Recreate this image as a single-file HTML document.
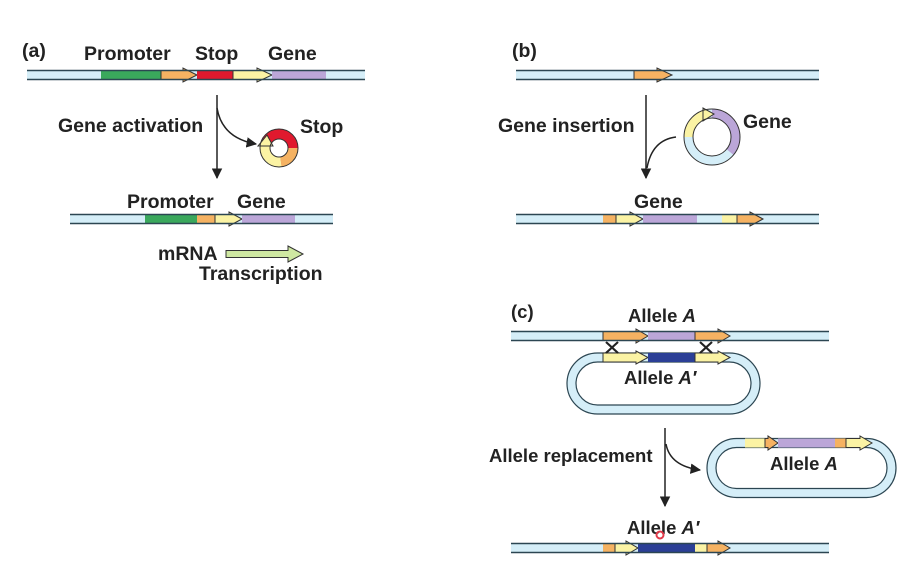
<!DOCTYPE html>
<html><head><meta charset="utf-8"><style>
html,body{margin:0;padding:0;background:#fff;}
svg{display:block;font-family:"Liberation Sans",sans-serif;font-weight:bold;}
text{font-size:19.5px;fill:#222;}
.c text, text.c{font-size:18.5px;}
.s{fill:#d5eef8;}
.l{stroke:#2c4652;stroke-width:1.4;fill:none;}
.a{stroke:#333;stroke-width:1;}
</style></head><body>
<svg width="921" height="576" viewBox="0 0 921 576">
<defs>
<marker id="ah" viewBox="0 0 10 10" refX="9" refY="5" markerWidth="7" markerHeight="7" orient="auto"><path d="M0,0 L10,5 L0,10 z" fill="#222"/></marker>
</defs>

<!-- PANEL A -->
<g>
<text x="22" y="57">(a)</text>
<text x="84" y="60">Promoter</text>
<text x="195" y="60">Stop</text>
<text x="268" y="60">Gene</text>
<g>
<rect class="s" x="27" y="70.5" width="338" height="9"/>
<rect x="101" y="70.5" width="60" height="9" fill="#3aa85c"/>
<polygon class="a" fill="#f5b262" points="161,70.5 183,70.5 183,68 197,75 183,82 183,79.5 161,79.5"/>
<rect x="197" y="70.5" width="36" height="9" fill="#e0192e"/>
<polygon class="a" fill="#fbf3a4" points="233,70.5 257,70.5 257,68 272,75 257,82 257,79.5 233,79.5"/>
<rect x="272" y="70.5" width="54" height="9" fill="#bba6d8"/>
<line class="l" x1="27" y1="70.5" x2="365" y2="70.5"/><line class="l" x1="27" y1="79.5" x2="365" y2="79.5"/>
</g>
<line x1="217" y1="95" x2="217" y2="178" stroke="#222" stroke-width="1.5" marker-end="url(#ah)"/>
<path d="M217,108 Q222,138 256,144" stroke="#222" stroke-width="1.5" fill="none" marker-end="url(#ah)"/>
<text x="58" y="132">Gene activation</text>
<g transform="translate(279,148)">
<circle r="14" fill="none" stroke="#e0192e" stroke-width="10"/>
<path d="M14,0 A14,14 0 0 1 2,13.9" fill="none" stroke="#f5b262" stroke-width="10"/>
<path d="M2,13.9 A14,14 0 0 1 -13.5,-3.5" fill="none" stroke="#fbf3a4" stroke-width="10"/>
<polygon class="a" fill="#fbf3a4" points="-21,-2 -6,-2 -12,-13"/>
<circle r="19" fill="none" stroke="#333" stroke-width="1"/><circle r="9" fill="none" stroke="#333" stroke-width="1"/>
</g>
<text x="300" y="133">Stop</text>
<text x="127" y="208">Promoter</text>
<text x="237" y="208">Gene</text>
<g>
<rect class="s" x="70" y="214.5" width="263" height="9"/>
<rect x="145" y="214.5" width="52" height="9" fill="#3aa85c"/>
<rect x="197" y="214.5" width="18" height="9" fill="#f5b262"/>
<polygon class="a" fill="#fbf3a4" points="215,214.5 229,214.5 229,212 242,219 229,226 229,223.5 215,223.5"/>
<rect x="242" y="214.5" width="53" height="9" fill="#bba6d8"/>
<line class="l" x1="70" y1="214.5" x2="333" y2="214.5"/><line class="l" x1="70" y1="223.5" x2="333" y2="223.5"/>
</g>
<text x="158" y="260">mRNA</text>
<polygon class="a" fill="#cfe8a2" points="226,250.5 288,250.5 288,246 303,254 288,262 288,257.5 226,257.5"/>
<text x="199" y="280">Transcription</text>
</g>

<!-- PANEL B -->
<g>
<text x="512" y="57">(b)</text>
<g>
<rect class="s" x="516" y="70.5" width="303" height="9"/>
<polygon class="a" fill="#f5b262" points="634,70.5 657,70.5 657,68 672,75 657,82 657,79.5 634,79.5"/>
<line class="l" x1="516" y1="70.5" x2="819" y2="70.5"/><line class="l" x1="516" y1="79.5" x2="819" y2="79.5"/>
</g>
<line x1="646" y1="95" x2="646" y2="178" stroke="#222" stroke-width="1.5" marker-end="url(#ah)"/>
<path d="M676,137 Q652,140 647,168" stroke="#222" stroke-width="1.5" fill="none"/>
<text x="498" y="132">Gene insertion</text>
<g transform="translate(712,137)">
<circle r="23.5" fill="none" stroke="#d5eef8" stroke-width="9"/>
<path d="M0,-23.5 A23.5,23.5 0 0 1 18,15" fill="none" stroke="#bba6d8" stroke-width="9"/>
<path d="M-23.5,0 A23.5,23.5 0 0 1 -8,-22" fill="none" stroke="#fbf3a4" stroke-width="9"/>
<polygon class="a" fill="#fbf3a4" points="-9,-29 -9,-16 2,-23"/>
<circle r="28" fill="none" stroke="#333" stroke-width="1"/><circle r="19" fill="none" stroke="#333" stroke-width="1"/>
</g>
<text x="743" y="128">Gene</text>
<text x="634" y="208">Gene</text>
<g>
<rect class="s" x="516" y="214.5" width="303" height="9"/>
<rect x="603" y="214.5" width="13" height="9" fill="#f5b262"/>
<polygon class="a" fill="#fbf3a4" points="616,214.5 630,214.5 630,212 643,219 630,226 630,223.5 616,223.5"/>
<rect x="643" y="214.5" width="54" height="9" fill="#bba6d8"/>
<rect x="722" y="214.5" width="15" height="9" fill="#fbf3a4"/>
<polygon class="a" fill="#f5b262" points="737,214.5 750,214.5 750,212 763,219 750,226 750,223.5 737,223.5"/>
<line class="l" x1="516" y1="214.5" x2="819" y2="214.5"/><line class="l" x1="516" y1="223.5" x2="819" y2="223.5"/>
</g>
</g>

<!-- PANEL C -->
<g class="c">
<text x="511" y="318">(c)</text>
<text x="628" y="322">Allele <tspan font-style="italic">A</tspan></text>
<g>
<rect class="s" x="511" y="331.5" width="318" height="9"/>
<polygon class="a" fill="#f5b262" points="603,331.5 636,331.5 636,329 648,336 636,343 636,340.5 603,340.5"/>
<rect x="648" y="331.5" width="47" height="9" fill="#bba6d8"/>
<polygon class="a" fill="#f5b262" points="695,331.5 718,331.5 718,329 730,336 718,343 718,340.5 695,340.5"/>
<line class="l" x1="511" y1="331.5" x2="829" y2="331.5"/><line class="l" x1="511" y1="340.5" x2="829" y2="340.5"/>
</g>
<g>
<rect x="571.5" y="357.5" width="184" height="52" rx="26" fill="none" stroke="#d5eef8" stroke-width="9"/>
<rect x="567" y="353" width="193" height="61" rx="30.5" fill="none" stroke="#2c4652" stroke-width="1.2"/>
<rect x="576" y="362" width="175" height="43" rx="21.5" fill="none" stroke="#2c4652" stroke-width="1.2"/>
<polygon class="a" fill="#fbf3a4" points="603,353 636,353 636,351 648,357.5 636,364 636,362 603,362"/>
<rect x="648" y="353" width="47" height="9" fill="#2b3f96"/>
<polygon class="a" fill="#fbf3a4" points="695,353 718,353 718,351 730,357.5 718,364 718,362 695,362"/>
</g>
<g stroke="#222" stroke-width="2.2">
<line x1="606" y1="342" x2="618" y2="353"/><line x1="618" y1="342" x2="606" y2="353"/></g>
<g stroke="#222" stroke-width="2.2">
<line x1="700" y1="342" x2="712" y2="353"/><line x1="712" y1="342" x2="700" y2="353"/></g>
<text x="624" y="384">Allele <tspan font-style="italic">A′</tspan></text>
<line x1="665" y1="428" x2="665" y2="506" stroke="#222" stroke-width="1.5" marker-end="url(#ah)"/>
<path d="M666,444 Q670,466 700,470" stroke="#222" stroke-width="1.5" fill="none" marker-end="url(#ah)"/>
<text x="489" y="462">Allele replacement</text>
<g>
<rect x="711.5" y="443" width="180" height="50" rx="25" fill="none" stroke="#d5eef8" stroke-width="9"/>
<rect x="707" y="438.5" width="189" height="59" rx="29.5" fill="none" stroke="#2c4652" stroke-width="1.2"/>
<rect x="716" y="447.5" width="171" height="41" rx="20.5" fill="none" stroke="#2c4652" stroke-width="1.2"/>
<rect x="745" y="438.5" width="20" height="9" fill="#fbf3a4"/>
<polygon class="a" fill="#f5b262" points="765,438.5 768,438.5 768,436 778,443 768,450 768,447.5 765,447.5"/>
<rect x="778" y="438.5" width="57" height="9" fill="#bba6d8"/>
<rect x="835" y="438.5" width="11" height="9" fill="#f5b262"/>
<polygon class="a" fill="#fbf3a4" points="846,438.5 860,438.5 860,436 872,443 860,450 860,447.5 846,447.5"/>
</g>
<text x="770" y="470">Allele <tspan font-style="italic">A</tspan></text>
<text x="627" y="534">Allele <tspan font-style="italic">A′</tspan></text>
<g>
<rect class="s" x="511" y="543.5" width="318" height="9"/>
<rect x="603" y="543.5" width="12" height="9" fill="#f5b262"/>
<polygon class="a" fill="#fbf3a4" points="615,543.5 626,543.5 626,541 638,548 626,555 626,552.5 615,552.5"/>
<rect x="638" y="543.5" width="57" height="9" fill="#2b3f96"/>
<rect x="695" y="543.5" width="12" height="9" fill="#fbf3a4"/>
<polygon class="a" fill="#f5b262" points="707,543.5 718,543.5 718,541 730,548 718,555 718,552.5 707,552.5"/>
<line class="l" x1="511" y1="543.5" x2="829" y2="543.5"/><line class="l" x1="511" y1="552.5" x2="829" y2="552.5"/>
</g>
<circle cx="660" cy="535" r="3.5" fill="none" stroke="#e23a4a" stroke-width="2"/>
</g>
</svg>
</body></html>
